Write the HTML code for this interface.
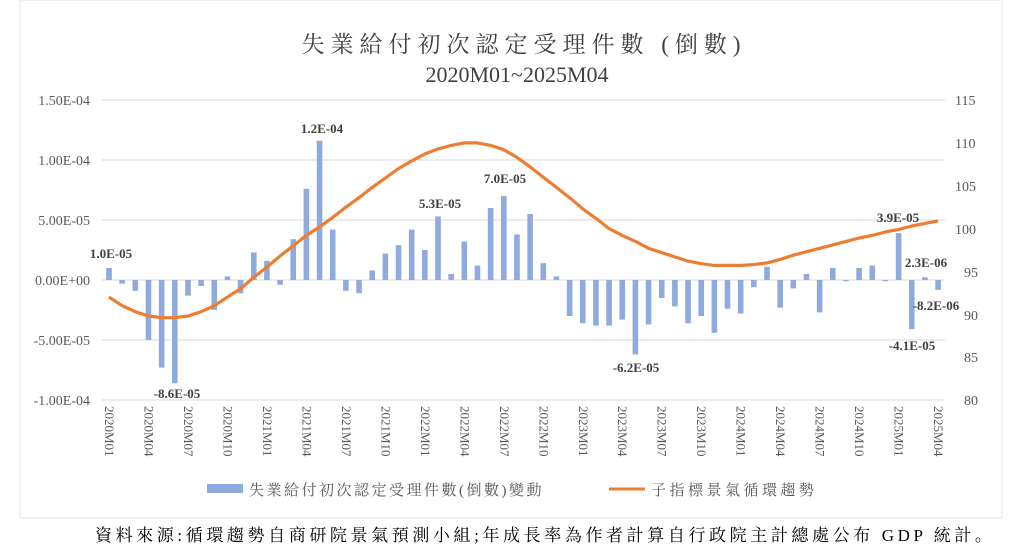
<!DOCTYPE html><html><head><meta charset="utf-8"><style>body{margin:0;background:#fff}svg{display:block}</style></head><body>
<svg width="1024" height="557" xmlns="http://www.w3.org/2000/svg" font-family="Liberation Serif, Noto Serif CJK SC, serif">
<rect x="20" y="0" width="982" height="518" fill="#fff" stroke="#e6e6e6"/>
<text x="524" y="52" text-anchor="middle" font-size="23" letter-spacing="6" fill="#404040" font-family="Liberation Serif, Noto Serif CJK SC, serif">失業給付初次認定受理件數 (倒數)</text>
<text x="517" y="82" text-anchor="middle" font-size="22" fill="#404040">2020M01~2025M04</text>
<g stroke="#d9d9d9" stroke-width="1">
<line x1="102" x2="945" y1="100" y2="100"/><line x1="102" x2="945" y1="160" y2="160"/><line x1="102" x2="945" y1="220" y2="220"/><line x1="102" x2="945" y1="280" y2="280"/><line x1="102" x2="945" y1="340" y2="340"/><line x1="102" x2="945" y1="400" y2="400"/>
</g>
<g font-size="14" fill="#595959" text-anchor="end">
<text x="90" y="105">1.50E-04</text><text x="90" y="165">1.00E-04</text><text x="90" y="225">5.00E-05</text><text x="90" y="285">0.00E+00</text><text x="90" y="345">-5.00E-05</text><text x="90" y="405">-1.00E-04</text>
</g>
<g font-size="14" fill="#595959">
<text x="955" y="105">115</text><text x="955" y="148">110</text><text x="955" y="191">105</text><text x="955" y="234">100</text><text x="964" y="277">95</text><text x="964" y="320">90</text><text x="964" y="362">85</text><text x="964" y="405">80</text>
</g>
<g id="bars" fill="#8faadc"></g>
<polyline id="ln" fill="none" stroke="#ed7d31" stroke-width="3.2" stroke-linejoin="round"/>
<g id="xl" font-size="13" fill="#595959"></g>
<g font-size="13" font-weight="bold" fill="#404040" text-anchor="middle">
<text x="111" y="258">1.0E-05</text><text x="177" y="398">-8.6E-05</text><text x="322" y="133">1.2E-04</text><text x="440" y="208">5.3E-05</text><text x="505" y="183">7.0E-05</text><text x="636" y="372">-6.2E-05</text><text x="898" y="222">3.9E-05</text><text x="926" y="267">2.3E-06</text><text x="936" y="310">-8.2E-06</text><text x="912" y="350">-4.1E-05</text>
</g>
<rect x="207" y="484" width="36" height="9" fill="#8faadc"/>
<text x="249" y="495" font-size="15" letter-spacing="2.5" fill="#595959" font-family="Liberation Serif, Noto Serif CJK SC, serif">失業給付初次認定受理件數(倒數)變動</text>
<line x1="609" x2="645" y1="489" y2="489" stroke="#ed7d31" stroke-width="3"/>
<text x="651" y="495" font-size="15" letter-spacing="3.5" fill="#595959" font-family="Liberation Serif, Noto Serif CJK SC, serif">子指標景氣循環趨勢</text>
<text x="95" y="541" font-size="17" letter-spacing="3.6" fill="#000" font-family="Liberation Serif, Noto Serif CJK SC, serif">資料來源:循環趨勢自商研院景氣預測小組;年成長率為作者計算自行政院主計總處公布 GDP 統計。</text>
<script>
var b=[1.0,-0.3,-0.9,-5.0,-7.3,-8.6,-1.3,-0.5,-2.5,0.3,-1.1,2.3,1.6,-0.4,3.4,7.6,11.6,4.2,-0.9,-1.1,0.8,2.2,2.9,4.2,2.5,5.3,0.5,3.2,1.2,6.0,7.0,3.8,5.5,1.4,0.3,-3.0,-3.6,-3.8,-3.8,-3.3,-6.2,-3.7,-1.5,-2.2,-3.6,-3.0,-4.4,-2.4,-2.8,-0.6,1.1,-2.3,-0.7,0.5,-2.7,1.0,-0.1,1.0,1.2,-0.1,3.9,-4.1,0.23,-0.82];
var l=[92,91,90.3,89.8,89.6,89.6,89.8,90.3,91,92,93,94.3,95.5,96.8,98,99.2,100.2,101.3,102.5,103.6,104.8,105.9,107,107.9,108.7,109.3,109.7,110,110,109.7,109.2,108.3,107.2,106,104.8,103.6,102.3,101.2,100,99.2,98.5,97.7,97.2,96.7,96.2,95.9,95.7,95.7,95.7,95.8,96,96.4,96.9,97.3,97.7,98.1,98.5,98.9,99.2,99.6,99.9,100.3,100.6,100.9];
var ns="http://www.w3.org/2000/svg",g=document.getElementById('bars'),xl=document.getElementById('xl'),pts=[];
for(var i=0;i<64;i++){var x=109+i*13.16,h=b[i]*12,r=document.createElementNS(ns,'rect');r.setAttribute('x',x-2.8);r.setAttribute('width',5.6);r.setAttribute('y',h>0?280-h:280);r.setAttribute('height',Math.abs(h));g.appendChild(r);
pts.push(x.toFixed(1)+','+(400-(l[i]-80)*8.571).toFixed(1));
if(i%3==0){var t=document.createElementNS(ns,'text');var m=i%12+1;t.textContent=(2020+Math.floor(i/12))+'M'+(m<10?'0':'')+m;t.setAttribute('transform','translate('+(x-4)+',406) rotate(90)');xl.appendChild(t);}}
document.getElementById('ln').setAttribute('points',pts.join(' '));
</script>
</svg></body></html>
